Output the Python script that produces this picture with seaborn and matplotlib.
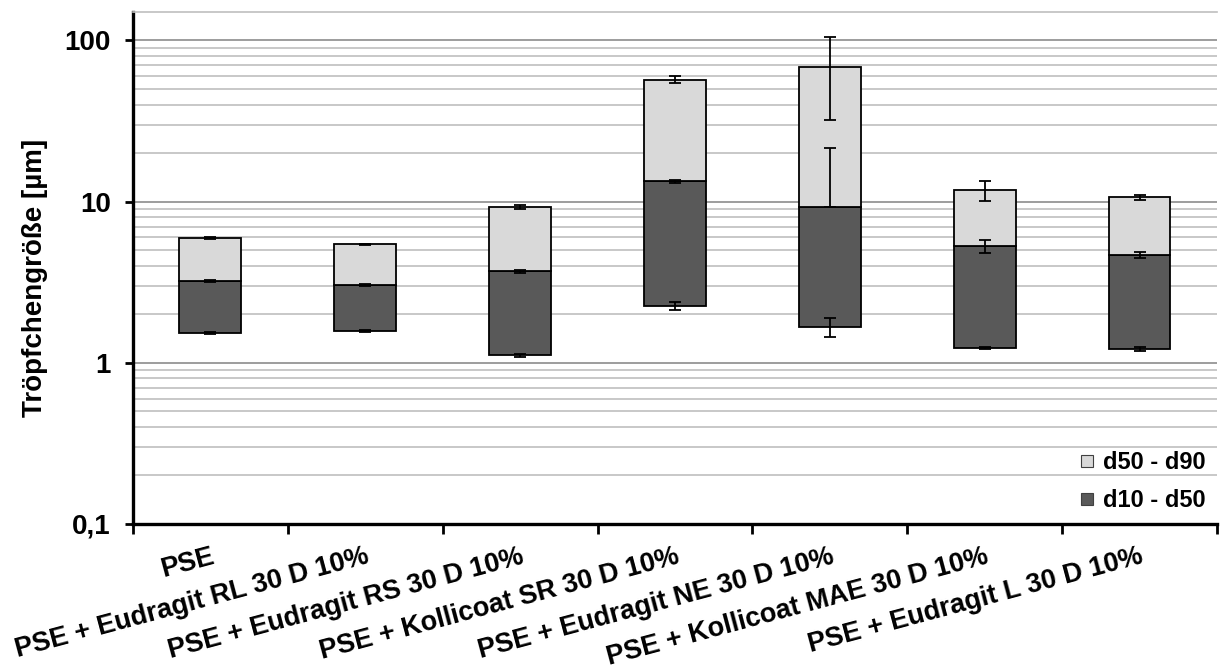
import numpy as np
import pandas as pd
import matplotlib
matplotlib.use("Agg")
import matplotlib.pyplot as plt
from matplotlib.ticker import FixedLocator, FixedFormatter, LogLocator, NullFormatter
from matplotlib.lines import Line2D
import seaborn as sns

categories = [
    "PSE",
    "PSE + Eudragit RL 30 D 10%",
    "PSE + Eudragit RS 30 D 10%",
    "PSE + Kollicoat SR 30 D 10%",
    "PSE + Eudragit NE 30 D 10%",
    "PSE + Kollicoat MAE 30 D 10%",
    "PSE + Eudragit L 30 D 10%",
]
d10 = [1.53, 1.57, 1.11, 2.25, 1.67, 1.23, 1.22]
d50 = [3.21, 3.03, 3.71, 13.35, 9.29, 5.30, 4.66]
d90 = [5.91, 5.43, 9.25, 57.0, 68.6, 11.8, 10.62]
err10 = [0.02, 0.02, 0.03, 0.12, 0.23, 0.02, 0.04]
err50 = [0.03, 0.03, 0.08, 0.30, 12.2, 0.48, 0.22]
err90 = [0.08, 0.05, 0.30, 2.75, 36.5, 1.70, 0.38]

ytick_vals = [0.1, 1, 10, 100]
ytick_labels = ["0,1", "1", "10", "100"]
legend_labels = ["d50 - d90", "d10 - d50"]
ylabel = "Tröpfchengröße [µm]"

sns.set_style("white")
plt.rcParams["font.family"] = ["Liberation Sans", "DejaVu Sans"]
plt.rcParams["font.weight"] = "bold"
for key in ["text.color", "axes.labelcolor", "xtick.color", "ytick.color"]:
    plt.rcParams[key] = "black"

DARK = "#595959"
LIGHT = "#d9d9d9"

fig, ax = plt.subplots(figsize=(12.2, 6.7), dpi=100)
fig.subplots_adjust(left=0.109, right=0.9975, bottom=0.218, top=0.982)
ax.set_yscale("log")

df = pd.DataFrame({
    "cat": categories,
    "d10": d10, "d50": d50, "d90": d90,
})
df["low_h"] = df["d50"] - df["d10"]
df["high_h"] = df["d90"] - df["d50"]

sns.barplot(data=df, x="cat", y="low_h", bottom=df["d10"].values, color=DARK,
            saturation=1, width=0.4, edgecolor="black", linewidth=1.3,
            errorbar=None, ax=ax, zorder=3)
sns.barplot(data=df, x="cat", y="high_h", bottom=df["d50"].values, color=LIGHT,
            saturation=1, width=0.4, edgecolor="black", linewidth=1.3,
            errorbar=None, ax=ax, zorder=3)

xpos = np.arange(len(categories))
for vals, errs in [(d10, err10), (d50, err50), (d90, err90)]:
    v = np.array(vals)
    e = np.array(errs)
    lower = np.where(e < v, e, 0.0)
    ax.errorbar(xpos, v, yerr=[lower, e], fmt="none", ecolor="black",
                elinewidth=1.3, capsize=4, capthick=1.3, zorder=5)

ax.set_ylim(0.1, 150)
ax.set_xlim(-0.5, len(categories) - 0.5)

# y axis
ax.yaxis.set_major_locator(FixedLocator(ytick_vals))
ax.yaxis.set_major_formatter(FixedFormatter(ytick_labels))
ax.yaxis.set_minor_locator(LogLocator(base=10, subs=np.arange(2, 10), numticks=20))
ax.yaxis.set_minor_formatter(NullFormatter())
ax.tick_params(axis="y", which="major", length=6, width=2, direction="out",
               pad=10, labelsize=20, left=True)
ax.tick_params(axis="y", which="minor", length=0)
ax.grid(True, axis="y", which="major", color="#8c8c8c", linewidth=1.2, zorder=0)
ax.grid(True, axis="y", which="minor", color="#bfbfbf", linewidth=1.2, zorder=0)
ax.grid(False, axis="x")
ax.set_axisbelow(True)

# x axis
ax.set_xlabel("")
ax.set_xticks(xpos)
ax.set_xticks(np.arange(len(categories) + 1) - 0.5, minor=True)
ax.tick_params(axis="x", which="major", length=0, pad=14, labelsize=19.5)
ax.tick_params(axis="x", which="minor", length=7, width=2, direction="out", bottom=True)
for lab in ax.get_xticklabels():
    lab.set_rotation(15)
    lab.set_ha("right")
    lab.set_va("top")
    lab.set_rotation_mode("anchor")
    lab.set_fontweight("bold")
for lab in ax.get_yticklabels():
    lab.set_fontweight("bold")

ax.set_ylabel(ylabel, fontsize=20, fontweight="bold")
ax.yaxis.set_label_coords(-0.078, 0.48)

for side in ["left", "bottom"]:
    ax.spines[side].set_visible(True)
    ax.spines[side].set_linewidth(2.4)
    ax.spines[side].set_color("black")
ax.spines["right"].set_visible(False)
ax.spines["top"].set_visible(True)
ax.spines["top"].set_color("#bfbfbf")
ax.spines["top"].set_linewidth(1.2)

handles = [
    Line2D([], [], linestyle="none", marker="s", markersize=9,
           markerfacecolor=LIGHT, markeredgecolor="#404040", markeredgewidth=0.8),
    Line2D([], [], linestyle="none", marker="s", markersize=9,
           markerfacecolor=DARK, markeredgecolor="#404040", markeredgewidth=0.8),
]
leg = ax.legend(handles, legend_labels, loc="lower right", frameon=False,
                prop={"size": 17, "weight": "bold"}, handlelength=0.7,
                handletextpad=0.3, labelspacing=0.65, borderaxespad=0.1,
                bbox_to_anchor=(1.0, 0.0))

fig.savefig("out.png", dpi=100)
